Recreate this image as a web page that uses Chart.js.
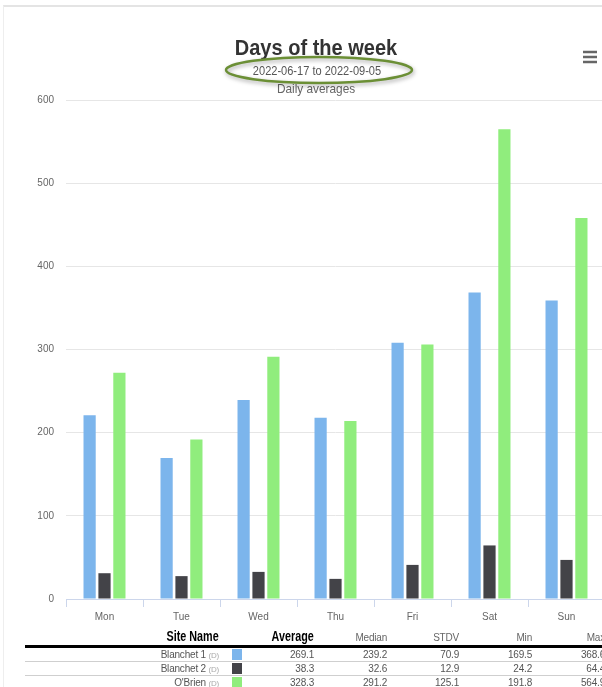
<!DOCTYPE html>
<html>
<head>
<meta charset="utf-8">
<script src="https://cdn.jsdelivr.net/npm/chart.js@4/dist/chart.umd.min.js"></script>
<style>
  body { margin: 0; width: 602px; height: 687px; overflow: hidden; background: #fff; position: relative; font-family: "Liberation Sans", Arial, sans-serif; }
  #frame { position: absolute; left: 3px; top: 5px; width: 700px; height: 700px; border-top: 2px solid #e4e4e4; border-left: 1px solid #eeeeee; }
  #chart { position: absolute; left: 0; top: 0; }
  #stats { position: absolute; left: 25px; top: 628px; border-collapse: collapse; table-layout: fixed; width: 582px; }
  #stats th, #stats td { padding: 0 2px 0 0; text-align: right; white-space: nowrap; overflow: hidden; letter-spacing: -0.2px; }
  #stats th { height: 17px; vertical-align: bottom; border-bottom: 3px solid #000; font-size: 10px; font-weight: normal; color: #666; line-height: 14px; }
  #stats th.big span { display: inline-block; font-size: 14px; font-weight: bold; color: #000; transform: scaleX(0.77); transform-origin: right center; letter-spacing: 0; line-height: 14px; }
  #stats td { height: 13px; border-bottom: 1px solid #cfcfcf; font-size: 10px; color: #555; line-height: 13px; vertical-align: middle; }
  #stats td .dev { font-size: 8px; color: #aaa; line-height: 1; }
  #stats td.sw { padding: 0; }
  #stats td.sw span { display: block; width: 10px; height: 11px; margin-left: 11px; }
</style>
</head>
<body>
<div id="frame"></div>
<canvas id="chart" width="615" height="630"></canvas>
<table id="stats">
  <colgroup>
    <col style="width:196px"><col style="width:32px"><col style="width:63px"><col style="width:73px"><col style="width:72px"><col style="width:73px"><col style="width:73px">
  </colgroup>
  <thead><tr>
    <th class="big"><span>Site Name</span></th><th></th><th class="big"><span>Average</span></th><th>Median</th><th>STDV</th><th>Min</th><th>Max</th>
  </tr></thead>
  <tbody></tbody>
</table>
<script>
// days of the week, daily averages per site
const days = ["Mon", "Tue", "Wed", "Thu", "Fri", "Sat", "Sun"];
const siteNames = ["Blanchet 1", "Blanchet 2", "O'Brien"];
const siteColors = ["#7cb5ec", "#434348", "#90ed7d"];

const blanchet1 = [221, 169.5, 239.2, 218, 308, 368.6, 359];
const blanchet2 = [31, 27.5, 32.6, 24.2, 41, 64.4, 47];
const obrien = [272, 191.8, 291.2, 214, 306, 564.9, 458];

// summary table, as printed under the chart
const averages = ["269.1", "38.3", "328.3"];
const medians = ["239.2", "32.6", "291.2"];
const stdvs = ["70.9", "12.9", "125.1"];
const mins = ["169.5", "24.2", "191.8"];
const maxs = ["368.6", "64.4", "564.9"];

const yTicks = [0, 100, 200, 300, 400, 500, 600];

const chartTitle = "Days of the week";
const dateRange = "2022-06-17 to 2022-09-05";
const subTitle = "Daily averages";

// text squeezed a little sideways, like the screenshot
function narrowText(ctx, text, x, y, font, color, sx) {
  ctx.save();
  ctx.translate(x, y);
  ctx.scale(sx, 1);
  ctx.font = font;
  ctx.fillStyle = color;
  ctx.fillText(text, 0, 0);
  ctx.restore();
}

// header texts, menu icon and the highlight ring round the date range
const headerPlugin = {
  id: 'header',
  afterDraw(chart) {
    const ctx = chart.ctx;
    ctx.save();
    ctx.textAlign = 'center';
    ctx.textBaseline = 'alphabetic';
    narrowText(ctx, chartTitle, 316, 55, 'bold 22px "Liberation Sans", Arial, sans-serif', '#333333', 0.91);
    narrowText(ctx, dateRange, 317, 75, '12px "Liberation Sans", Arial, sans-serif', '#555555', 0.92);
    narrowText(ctx, subTitle, 316, 93, '13px "Liberation Sans", Arial, sans-serif', '#666666', 0.91);

    // menu icon
    ctx.strokeStyle = '#666666';
    ctx.lineWidth = 2.5;
    [52, 57, 62].forEach(y => {
      ctx.beginPath();
      ctx.moveTo(583, y);
      ctx.lineTo(597, y);
      ctx.stroke();
    });

    // ring
    ctx.shadowColor = 'rgba(0,0,0,0.35)';
    ctx.shadowBlur = 4;
    ctx.shadowOffsetX = 1;
    ctx.shadowOffsetY = 2;
    ctx.strokeStyle = '#6b8f35';
    ctx.lineWidth = 2.5;
    ctx.beginPath();
    ctx.ellipse(319, 70, 93, 13, 0, 0, Math.PI * 2);
    ctx.stroke();
    ctx.restore();
  }
};

const tickFont = { size: 10, family: '"Liberation Sans", Arial, sans-serif' };

const ctx = document.getElementById("chart").getContext("2d");
new Chart(ctx, {
  type: 'bar',
  data: {
    labels: days,
    datasets: [
      { label: siteNames[0], data: blanchet1, backgroundColor: siteColors[0] },
      { label: siteNames[1], data: blanchet2, backgroundColor: siteColors[1] },
      { label: siteNames[2], data: obrien, backgroundColor: siteColors[2] }
    ]
  },
  options: {
    responsive: false,
    animation: false,
    events: [],
    devicePixelRatio: 1,
    categoryPercentage: 0.58,
    barPercentage: 0.82,
    layout: { padding: { left: 0, top: 100, right: 10, bottom: 1 } },
    plugins: { legend: { display: false }, title: { display: false }, tooltip: { enabled: false } },
    scales: {
      x: {
        grid: { offset: true, drawOnChartArea: false, drawTicks: true, tickLength: 8, color: '#ccd6eb' },
        border: { color: '#ccd6eb' },
        ticks: { color: '#666666', font: tickFont, padding: 4 },
        afterFit(scale) { scale.height = 30; }
      },
      y: {
        min: 0,
        max: 600,
        afterBuildTicks(scale) { scale.ticks = yTicks.map(v => ({ value: v })); },
        grid: { color: '#e6e6e6', drawTicks: false },
        border: { display: false },
        ticks: { color: '#666666', font: tickFont, padding: 12 },
        afterFit(scale) { scale.width = 66; }
      }
    }
  },
  plugins: [headerPlugin]
});

// summary table rows
const tbody = document.querySelector("#stats tbody");
tbody.innerHTML = siteNames.map((name, i) => `
  <tr>
    <td>${name} <span class="dev">(D)</span></td>
    <td class="sw"><span style="background:${siteColors[i]}"></span></td>
    <td>${averages[i]}</td>
    <td>${medians[i]}</td>
    <td>${stdvs[i]}</td>
    <td>${mins[i]}</td>
    <td>${maxs[i]}</td>
  </tr>
`).join('');
</script>
</body>
</html>
